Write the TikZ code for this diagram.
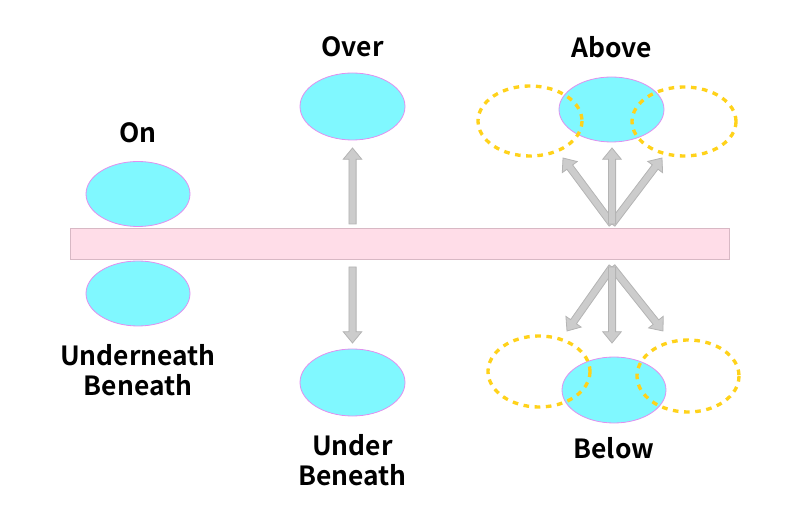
\documentclass[tikz,border=0pt]{standalone}
\usepackage{fontspec}
\newfontfamily\lblfont{Noto Sans CJK JP}[UprightFont={* Bold}]
\usetikzlibrary{calc}
\definecolor{ballfill}{HTML}{80F8FF}
\definecolor{ballline}{HTML}{E090F0}
\definecolor{barfill}{HTML}{FFDDE8}
\definecolor{barline}{HTML}{D8B8C4}
\definecolor{arrfill}{HTML}{CCCCCC}
\definecolor{arrline}{HTML}{B4B4B4}
\definecolor{dashyel}{HTML}{FFD21A}
\tikzset{
  ball/.style={fill=ballfill, draw=ballline, line width=0.6pt},
  ghost/.style={draw=dashyel, line width=2.5pt, dash pattern=on 4.2pt off 4.2pt},
  lbl/.style={font=\lblfont\fontsize{19.8}{22.5}\selectfont, align=center, inner sep=0pt},
  fatarrowstyle/.style={fill=arrfill, draw=arrline, line width=0.6pt, line join=miter},
}
\newcommand\fatarrow[2]{%
  \path let \p1=($(#2)-(#1)$) in \pgfextra{%
    \pgfmathsetmacro\fa{atan2(\y1,\x1)}%
    \pgfmathsetmacro\fl{veclen(\x1,\y1)}%
    \global\let\fatang\fa \global\let\fatlen\fl};
  \draw[fatarrowstyle, shift={(#1)}, rotate=\fatang]
    (0pt,-2.7pt) -- ({\fatlen pt-8.5pt},-2.7pt) -- ({\fatlen pt-8.5pt},-7pt)
    -- (\fatlen pt,0pt) -- ({\fatlen pt-8.5pt},7pt) -- ({\fatlen pt-8.5pt},2.7pt)
    -- (0pt,2.7pt) -- cycle;
}
\begin{document}
\begin{tikzpicture}[x=0.75pt, y=-0.75pt]
\useasboundingbox (0,0) rectangle (800,520);
% bar
\node[fill=barfill, draw=barline, line width=0.6pt, minimum width=659*0.75pt, minimum height=31*0.75pt, inner sep=0pt] (bar) at (399.5,243.5) {};
% On / Underneath
\path[ball] (138,194) ellipse [x radius=52, y radius=32.5];
\node (on) at (138,194) {};
\path[ball] (138,293.5) ellipse [x radius=52, y radius=32.5];
\node (und) at (138,293.5) {};
\node[lbl] (lon) at (138,133) {On};
\node[lbl] (lund) at (138,370) {Underneath\\Beneath};
% Over / Under
\path[ball] (352.5,106.5) ellipse [x radius=52.5, y radius=33.5];
\node (over) at (352.5,106.5) {};
\path[ball] (352.5,382.5) ellipse [x radius=52.5, y radius=33.5];
\node (under) at (352.5,382.5) {};
\node[lbl] (lover) at (352.5,47) {Over};
\node[lbl] (lunder) at (352.5,460) {Under\\Beneath};
\coordinate (o1) at (352.5,224);
\coordinate (o2) at (352.5,148);
\coordinate (u1) at (352.5,267);
\coordinate (u2) at (352.5,343);
\fatarrow{o1}{o2}
\fatarrow{u1}{u2}
% Above
\coordinate (a0) at (612,224);
\coordinate (aL) at (563,158);
\coordinate (aR) at (662,158);
\coordinate (aU) at (612,148);
\fatarrow{a0}{aL}
\fatarrow{a0}{aR}
\fatarrow{a0}{aU}
\path[ball] (611.5,109.5) ellipse [x radius=52.5, y radius=32.5];
\node (above) at (611.5,109.5) {};
\draw[ghost] (530,121) ellipse [x radius=52, y radius=35];
\draw[ghost] (684,121.5) ellipse [x radius=52, y radius=34.5];
\node[lbl] (labove) at (611.5,47) {Above};
% Below
\coordinate (b0) at (612,267);
\coordinate (bL) at (567,331);
\coordinate (bR) at (663,331);
\coordinate (bD) at (612,343);
\fatarrow{b0}{bL}
\fatarrow{b0}{bR}
\fatarrow{b0}{bD}
\path[ball] (614,390) ellipse [x radius=52, y radius=33];
\node (below) at (614,390) {};
\draw[ghost] (539,371.5) ellipse [x radius=51, y radius=35.5];
\draw[ghost] (688,376) ellipse [x radius=51, y radius=36];
\node[lbl] (lbelow) at (614,448) {Below};
\end{tikzpicture}
\end{document}
